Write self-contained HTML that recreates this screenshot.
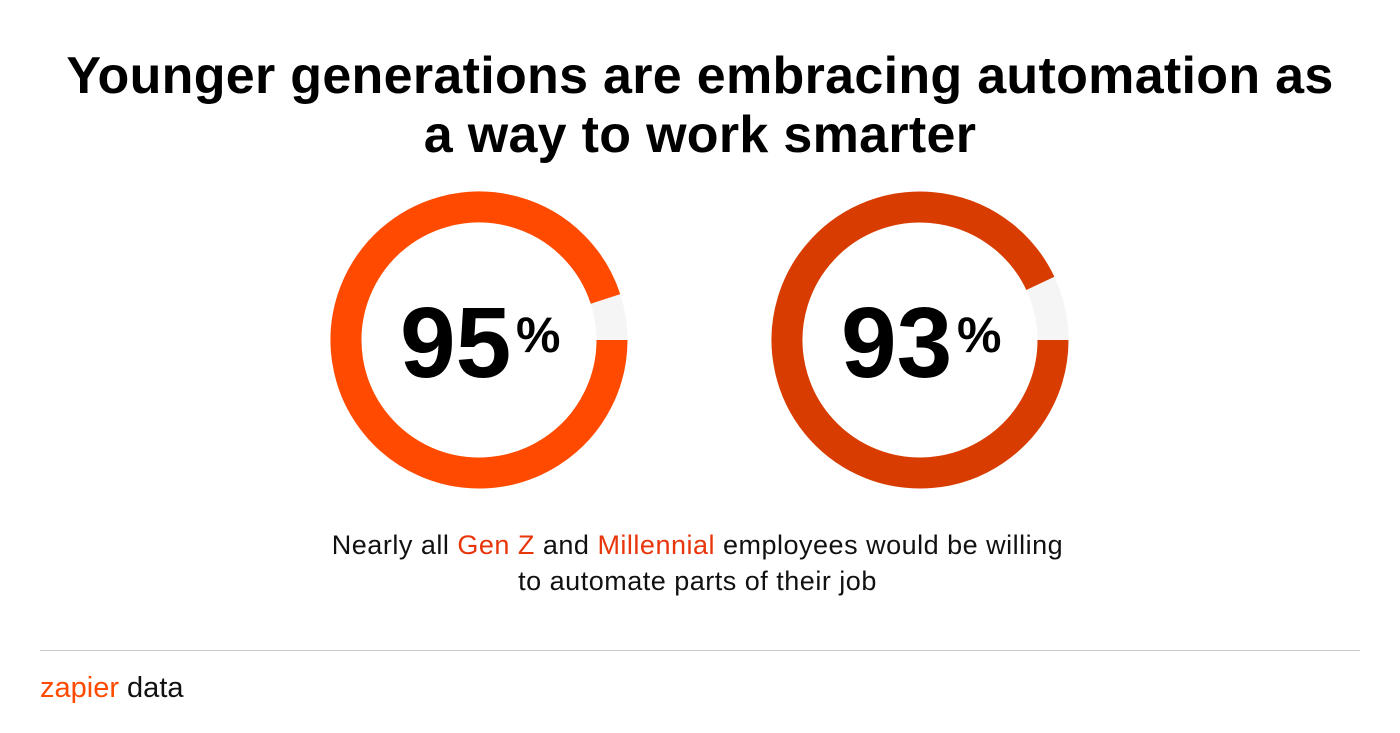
<!DOCTYPE html>
<html><head><meta charset="utf-8"><style>
body{margin:0;width:1400px;height:733px;background:#fff;font-family:"Liberation Sans",sans-serif;overflow:hidden;position:relative}
h1{position:absolute;top:47px;left:0;width:1400px;margin:0;text-align:center;font-size:52px;line-height:59px;font-weight:bold;color:#000;letter-spacing:0.3px}
.sub{position:absolute;top:527px;left:0;width:1395px;text-align:center;font-size:27px;line-height:36px;color:#111;letter-spacing:0.5px}
.sub span{color:#e8350a}
.rule{position:absolute;top:650px;left:40px;width:1320px;height:1px;background:#ccc}
.logo{position:absolute;top:672px;left:40px;font-size:29px;color:#111}
.logo .z{color:#ff4a00;position:relative}
</style></head><body>
<h1>Younger generations are embracing automation as<br>a way to work smarter</h1>
<svg id="chart" width="1400" height="733" style="position:absolute;left:0;top:0"></svg>
<div class="sub">Nearly all <span>Gen Z</span> and <span>Millennial</span> employees would be willing<br>to automate parts of their job</div>
<div class="rule"></div>
<div class="logo"><span class="z">zapier</span> data</div>
<script>
const categories = ["Gen Z", "Millennial"];
const values = [95, 93];
const labels = ["95", "93"];
const colors = ["#ff4a00", "#d83c00"];
const centersX = [479, 920];
const svg = document.getElementById('chart');
const NS = 'http://www.w3.org/2000/svg';
const cy = 340, rMid = 133, thick = 31;
function pt(cx, a){ return [cx + rMid*Math.cos(a), cy + rMid*Math.sin(a)]; }
values.forEach((v, i) => {
  const cx = centersX[i];
  const bg = document.createElementNS(NS, 'circle');
  bg.setAttribute('cx', cx); bg.setAttribute('cy', cy); bg.setAttribute('r', rMid);
  bg.setAttribute('fill', 'none'); bg.setAttribute('stroke', '#f5f5f5'); bg.setAttribute('stroke-width', thick);
  
  
  svg.appendChild(bg);
  const ang = v / 100 * 2 * Math.PI;
  const [x0, y0] = pt(cx, 0), [x1, y1] = pt(cx, ang);
  const p = document.createElementNS(NS, 'path');
  p.setAttribute('d', `M${x0} ${y0} A${rMid} ${rMid} 0 ${ang > Math.PI ? 1 : 0} 1 ${x1} ${y1}`);
  p.setAttribute('fill', 'none'); p.setAttribute('stroke', colors[i]); p.setAttribute('stroke-width', thick);
  
  
  svg.appendChild(p);
  const t = document.createElementNS(NS, 'text');
  t.setAttribute('x', cx - 79); t.setAttribute('y', 377);
  t.setAttribute('font-size', '100'); t.setAttribute('font-weight', 'bold');
  t.setAttribute('font-family', 'Liberation Sans, sans-serif');
  t.textContent = labels[i];
  
  
  svg.appendChild(t);
  const pc = document.createElementNS(NS, 'text');
  pc.setAttribute('x', cx + 37); pc.setAttribute('y', 352);
  pc.setAttribute('font-size', '50'); pc.setAttribute('font-weight', 'bold');
  pc.setAttribute('font-family', 'Liberation Sans, sans-serif');
  pc.textContent = '%';
  
  
  svg.appendChild(pc);
});
</script>
</body></html>
